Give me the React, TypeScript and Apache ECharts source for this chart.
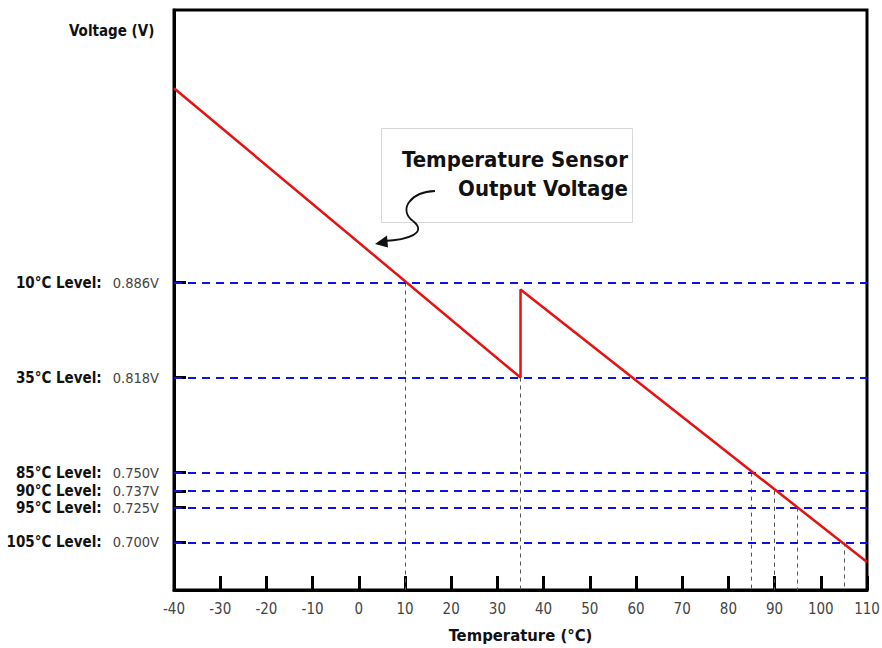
import React, { useEffect, useRef } from "react";
import * as echarts from "echarts";

const levelTemps = [10, 35, 85, 90, 95, 105];
const levelVolts = [0.886, 0.818, 0.75, 0.737, 0.725, 0.7];
const sensorTemps = [-40, 35, 35, 110];
const sensorVolts = [1.025, 0.818, 0.881, 0.686];
const xTicks = [-40, -30, -20, -10, 0, 10, 20, 30, 40, 50, 60, 70, 80, 90, 100, 110];
const yMin = 0.666;
const yMax = 1.081;

const FONT = "'DejaVu Sans Condensed', 'DejaVu Sans', sans-serif";

export default function App() {
  const ref = useRef<HTMLDivElement>(null);
  useEffect(() => {
    if (!ref.current) return;
    const chart = echarts.init(ref.current, null, { renderer: "svg" });
    const lineData = sensorTemps.map((t, i) => [t, sensorVolts[i]]);
    const hLines = levelVolts.map((v) => ({ yAxis: v }));
    const vLines = levelTemps.map((t, i) => [
      { coord: [t, levelVolts[i]] },
      { coord: [t, yMin] },
    ]);
    chart.setOption({
      animation: false,
      backgroundColor: "#fff",
      grid: {
        left: 174,
        right: 15,
        top: 10,
        bottom: 58,
        containLabel: false,
        outerBoundsMode: "none",
        show: true,
        borderColor: "#000",
        borderWidth: 3,
        backgroundColor: "transparent",
      },
      xAxis: {
        type: "value",
        min: -40,
        max: 110,
        interval: 10,
        name: "Temperature (°C)",
        nameLocation: "middle",
        nameGap: 37,
        nameTextStyle: { fontFamily: FONT, fontWeight: "bold", fontSize: 16.5, color: "#111" },
        axisLine: { show: true, onZero: false, lineStyle: { color: "#000", width: 3 } },
        axisTick: {
          show: true,
          inside: true,
          length: 14,
          lineStyle: { color: "#000", width: 3 },
        },
        axisLabel: {
          margin: 11,
          fontFamily: FONT,
          fontSize: 15,
          color: "#444",
          customValues: xTicks,
        },
        splitLine: { show: false },
      },
      yAxis: {
        type: "value",
        min: yMin,
        max: yMax,
        axisLine: { show: true, onZero: false, lineStyle: { color: "#000", width: 3 } },
        axisTick: {
          show: true,
          inside: true,
          length: 12,
          lineStyle: { color: "#000", width: 3 },
          customValues: levelVolts,
        },
        axisLabel: {
          margin: 15,
          customValues: levelVolts,
          formatter: (val: number) => {
            const i = levelVolts.findIndex((v) => Math.abs(v - val) < 1e-6);
            if (i < 0) return "";
            return `{a|${levelTemps[i]}°C Level:}{b|${levelVolts[i].toFixed(3)}V}`;
          },
          rich: {
            a: { fontFamily: FONT, fontWeight: "bold", fontSize: 15, color: "#111" },
            b: { fontFamily: FONT, fontSize: 14.5, color: "#444", padding: [0, 0, 0, 11] },
          },
        },
        splitLine: { show: false },
      },
      series: [
        {
          type: "line",
          data: [],
          silent: true,
          markLine: {
            silent: true,
            symbol: "none",
            precision: 4,
            label: { show: false },
            lineStyle: { color: "#555", width: 1, type: [4, 4] },
            data: vLines,
          },
        },
        {
          type: "line",
          data: [],
          silent: true,
          markLine: {
            silent: true,
            symbol: "none",
            precision: 4,
            label: { show: false },
            lineStyle: { color: "#1010e0", width: 2, type: [8, 6] },
            data: hLines,
          },
        },
        {
          type: "line",
          data: lineData,
          showSymbol: false,
          symbol: "none",
          lineStyle: { color: "#e81010", width: 2.5 },
          z: 5,
        },
      ],
      graphic: [
        {
          type: "text",
          left: 69,
          top: 23,
          style: {
            text: "Voltage (V)",
            fontFamily: FONT,
            fontWeight: "bold",
            fontSize: 15,
            fill: "#111",
          },
        },
        {
          type: "rect",
          shape: { x: 381.5, y: 128.5, width: 251, height: 94 },
          style: { fill: "#fff", stroke: "#d8d8d8", lineWidth: 1 },
          z: 10,
        },
        {
          type: "text",
          x: 628,
          y: 159,
          style: {
            text: "Temperature Sensor",
            fontFamily: FONT,
            fontWeight: "bold",
            fontSize: 22,
            fill: "#111",
            align: "right",
            verticalAlign: "middle",
          },
          z: 11,
        },
        {
          type: "text",
          x: 628,
          y: 188,
          style: {
            text: "Output Voltage",
            fontFamily: FONT,
            fontWeight: "bold",
            fontSize: 22,
            fill: "#111",
            align: "right",
            verticalAlign: "middle",
          },
          z: 11,
        },
        {
          type: "bezierCurve",
          shape: { x1: 435, y1: 191, cpx1: 410, cpy1: 192, cpx2: 398, cpy2: 210, x2: 413, y2: 221 },
          style: { stroke: "#111", lineWidth: 1.8, fill: "none" },
          z: 12,
        },
        {
          type: "bezierCurve",
          shape: { x1: 413, y1: 221, cpx1: 428, cpy1: 233, cpx2: 408, cpy2: 240, x2: 384, y2: 241 },
          style: { stroke: "#111", lineWidth: 1.8, fill: "none" },
          z: 12,
        },
        {
          type: "polygon",
          shape: { points: [[375, 244], [387, 235.5], [388, 247.5]] },
          style: { fill: "#111" },
          z: 12,
        },
      ],
    });
    return () => chart.dispose();
  }, []);
  return (
    <div
      ref={ref}
      style={{ position: "fixed", left: 0, top: 0, width: 882, height: 648 }}
    />
  );
}
